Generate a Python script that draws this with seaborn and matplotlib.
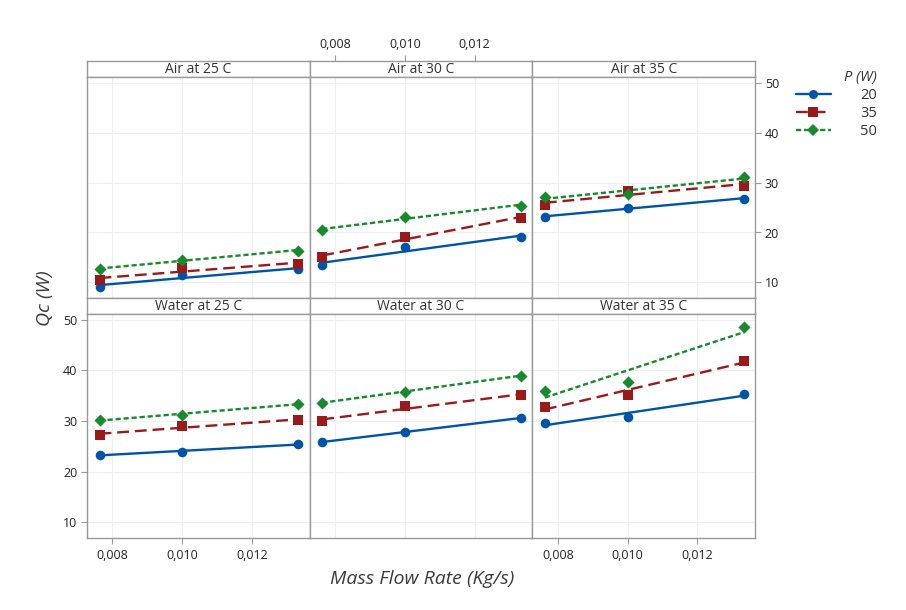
import numpy as np
import pandas as pd
import matplotlib
matplotlib.use("Agg")
import matplotlib.pyplot as plt
from matplotlib.lines import Line2D
import seaborn as sns

# Data (rows: P = 20, 35, 50 W)
flow = [0.00763, 0.0100, 0.01333]
powers = [20, 35, 50]

air_25 = [[9.15, 11.45, 12.65], [10.5, 12.85, 13.7], [12.65, 14.6, 16.4]]
air_30 = [[13.5, 17.0, 19.05], [15.15, 19.05, 22.95], [20.45, 23.15, 25.4]]
air_35 = [[23.15, 24.9, 26.8], [25.45, 28.35, 29.35], [27.1, 27.8, 31.05]]
water_25 = [[23.35, 23.85, 25.45], [27.3, 28.95, 30.2], [30.2, 31.2, 33.4]]
water_30 = [[25.85, 27.8, 30.6], [30.0, 32.9, 35.05], [33.6, 35.8, 38.95]]
water_35 = [[29.6, 30.8, 35.3], [32.8, 35.2, 41.9], [36.0, 37.6, 48.5]]

panel_titles = [["Air at 25 C", "Air at 30 C", "Air at 35 C"],
                ["Water at 25 C", "Water at 30 C", "Water at 35 C"]]
panel_data = [[air_25, air_30, air_35], [water_25, water_30, water_35]]

x_ticks = [0.008, 0.010, 0.012]
x_ticklabels = ["0,008", "0,010", "0,012"]
y_ticks = [10, 20, 30, 40, 50]

rows = []
for r in range(2):
    for c in range(3):
        for i, p in enumerate(powers):
            for x, y in zip(flow, panel_data[r][c][i]):
                rows.append({"row": r, "col": c, "P": p, "flow": x, "Qc": y})
df = pd.DataFrame(rows)

sns.set_style("white")
plt.rcParams["font.family"] = ["Open Sans", "DejaVu Sans"]

colors = {20: "#0054a6", 35: "#9a1a1a", 50: "#168a2c"}
markers = {20: "o", 35: "s", 50: "D"}
sizes = {20: 48, 35: 44, 50: 38}
dashes = {20: "-", 35: (0, (5, 2.5)), 50: (0, (2.2, 1.2))}

spine_col = "#9a9a9a"
text_col = "#333333"

fig = plt.figure(figsize=(9.06, 6.10), dpi=100)
gs = fig.add_gridspec(4, 3, height_ratios=[16, 221, 16, 224],
                      left=87 / 906, right=755 / 906,
                      top=1 - 61 / 610, bottom=1 - 538 / 610,
                      hspace=0, wspace=0)

xlim = (0.00727, 0.01365)
ylim = (6.9, 51.1)
first = None
for r in range(2):
    for c in range(3):
        strip = fig.add_subplot(gs[2 * r, c])
        ax = fig.add_subplot(gs[2 * r + 1, c], sharex=first, sharey=first)
        if first is None:
            first = ax
        sub = df[(df.row == r) & (df.col == c)]
        for p in powers:
            d = sub[sub.P == p]
            sns.regplot(data=d, x="flow", y="Qc", ax=ax, ci=None, truncate=True,
                        color=colors[p], marker=markers[p],
                        scatter_kws={"s": sizes[p], "alpha": 1, "zorder": 4,
                                     "linewidths": 0},
                        line_kws={"lw": 1.7, "ls": dashes[p], "zorder": 3})
        ax.set_xlim(*xlim)
        ax.set_ylim(*ylim)
        ax.set_xticks(x_ticks)
        ax.set_xticklabels(x_ticklabels)
        ax.set_yticks(y_ticks)
        ax.grid(True, color="#efefef", lw=0.8)
        ax.set_xlabel("")
        ax.set_ylabel("")
        for s in ax.spines.values():
            s.set_color(spine_col)
            s.set_linewidth(1)
        ax.tick_params(axis="both", colors=spine_col, labelcolor="#222222",
                       labelsize=9, length=4, width=0.8, direction="out",
                       bottom=False, labelbottom=False, left=False, labelleft=False,
                       top=False, right=False)
        if r == 1 and c in (0, 2):
            ax.tick_params(axis="x", bottom=True, labelbottom=True, pad=4)
        if r == 1 and c == 0:
            ax.tick_params(axis="y", left=True, labelleft=True, pad=3)
        if r == 0 and c == 2:
            ax.yaxis.tick_right()
            ax.tick_params(axis="y", right=True, labelright=True, left=False,
                           labelleft=False, pad=3)

        strip.set_xlim(*xlim)
        strip.set_yticks([])
        strip.set_facecolor("white")
        for s in strip.spines.values():
            s.set_color(spine_col)
            s.set_linewidth(1)
        if r == 0 and c == 1:
            strip.set_xticks(x_ticks)
            strip.set_xticklabels(x_ticklabels)
            strip.xaxis.tick_top()
            strip.tick_params(axis="x", colors=spine_col, labelcolor="#222222",
                              labelsize=9, length=4, width=0.8, pad=3)
        else:
            strip.set_xticks([])
        strip.text(0.5, 0.45, panel_titles[r][c], transform=strip.transAxes,
                   ha="center", va="center", fontsize=10, color=text_col)

fig.text(45 / 906, 1 - 298 / 610, "Qc (W)", rotation=90, ha="center",
         va="center", fontsize=14, style="italic", color="#3a3a3a")
fig.text(422 / 906, 1 - 579 / 610, "Mass Flow Rate (Kg/s)", ha="center",
         va="center", fontsize=14, style="italic", color="#3a3a3a")

handles = [Line2D([0], [0], color=colors[p], ls=dashes[p], lw=1.7,
                  marker=markers[p], markersize=6.5 if p != 50 else 5.8,
                  markeredgewidth=0) for p in powers]
leg = fig.legend(handles, [str(p) for p in powers], title="P (W)",
                 loc="upper right", bbox_to_anchor=(890 / 906, 1 - 57 / 610),
                 frameon=False, handlelength=2.4, handletextpad=2.0,
                 labelspacing=0.2, fontsize=10.5, title_fontsize=10.5,
                 alignment="right")
leg.get_title().set_style("italic")
leg.get_title().set_color(text_col)
for t in leg.get_texts():
    t.set_color(text_col)
    t.set_ha("right")

fig.savefig("out.png", dpi=100)
